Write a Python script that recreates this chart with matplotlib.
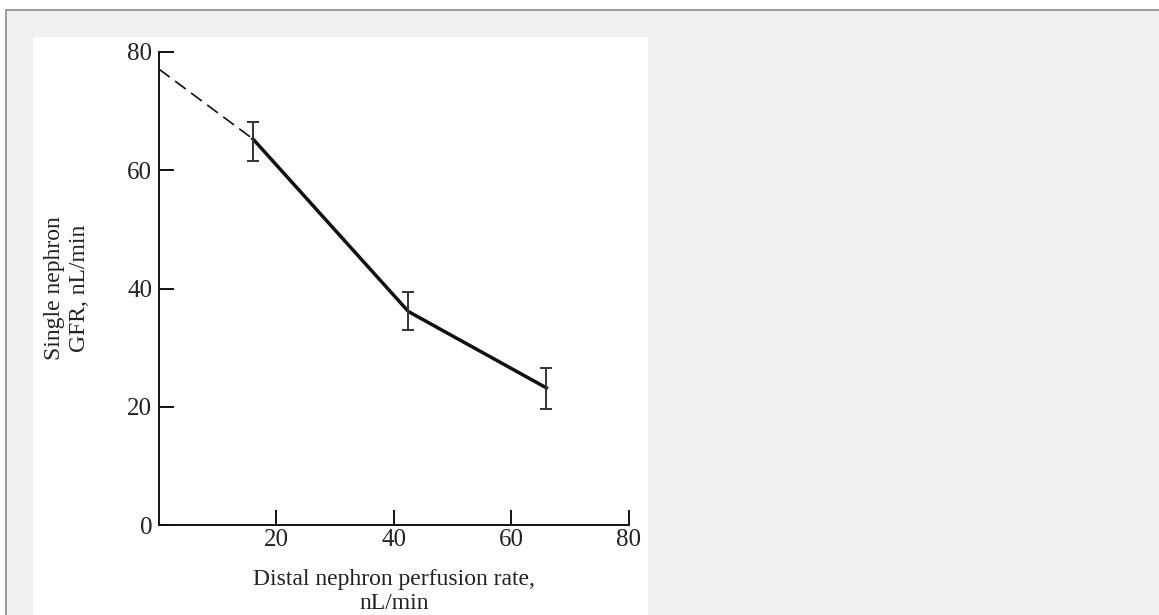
import numpy as np
import matplotlib
matplotlib.use("Agg")
import matplotlib.pyplot as plt
from matplotlib.patches import Rectangle

# Data
perfusion = [16, 42.5, 66]          # nL/min
sngfr = [65.3, 36.1, 23.2]          # nL/min
err_low = [61.6, 32.9, 19.6]
err_high = [68.1, 39.4, 26.5]
intercept = 77.1                    # extrapolated value at zero perfusion

x_ticks = [20, 40, 60, 80]
y_ticks = [0, 20, 40, 60, 80]

W, H = 1159, 615
fig = plt.figure(figsize=(W / 100, H / 100), dpi=100, facecolor="white")

# screenshot-like frame: grey page with a white card
def px(x, y, w, h):
    return (x / W, 1 - (y + h) / H, w / W, h / H)

x0, y0, w0, h0 = px(6, 10, W + 10, H + 10)
fig.patches.append(Rectangle((x0, y0), w0, h0, transform=fig.transFigure,
                             facecolor="#f0f0f0", edgecolor="#8a8a8a", lw=1.2, zorder=-3))
x1, y1, w1, h1 = px(33, 37, 615, H - 37)
fig.patches.append(Rectangle((x1, y1), w1, h1, transform=fig.transFigure,
                             facecolor="white", edgecolor="none", zorder=-2))

ax = fig.add_axes([159 / W, 90 / H, 469.5 / W, 473 / H])
ax.set_facecolor("none")

ink = "#111111"
serif = "Liberation Serif"

# extrapolated part
ax.plot([0, perfusion[0]], [intercept, sngfr[0]], color=ink, lw=1.2,
        dashes=(8, 4), clip_on=False)
# measured part
ax.plot(perfusion, sngfr, color=ink, lw=2.5, solid_joinstyle="miter")
yerr = [np.array(sngfr) - np.array(err_low), np.array(err_high) - np.array(sngfr)]
ax.errorbar(perfusion, sngfr, yerr=yerr, fmt="none", ecolor="#333333",
            elinewidth=1.4, capsize=4.5, capthick=1.4)

ax.set_xlim(0, 80)
ax.set_ylim(0, 80)
ax.set_xticks(x_ticks)
ax.set_yticks(y_ticks)
for s in ["top", "right"]:
    ax.spines[s].set_visible(False)
for s in ["left", "bottom"]:
    ax.spines[s].set_linewidth(1.4)
    ax.spines[s].set_color(ink)
ax.tick_params(direction="in", length=11, width=1.4, colors=ink, labelsize=18)
ax.tick_params(axis="y", pad=5)
ax.tick_params(axis="x", pad=3)
for lab in ax.get_xticklabels() + ax.get_yticklabels():
    lab.set_fontfamily(serif)
    lab.set_color("#222222")

ax.set_xlabel("Distal nephron perfusion rate,\nnL/min", fontsize=17,
              fontfamily=serif, color="#222222", labelpad=13, linespacing=1.15)
ax.set_ylabel("Single nephron\nGFR, nL/min", fontsize=17,
              fontfamily=serif, color="#222222", labelpad=27, linespacing=1.25)

fig.savefig("out.png", dpi=100, facecolor=fig.get_facecolor())
